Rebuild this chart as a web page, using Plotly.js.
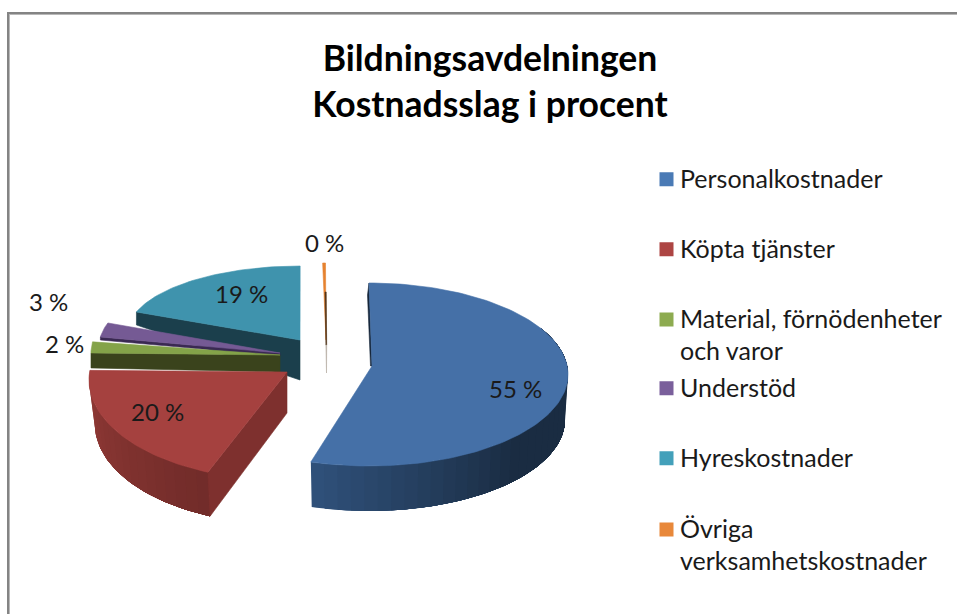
<!DOCTYPE html>
<html><head><meta charset="utf-8">
<script src="https://cdn.plot.ly/plotly-3.0.1.min.js"></script>
<style>html,body{margin:0;padding:0;background:#fff}#c{width:957px;height:614px}</style>
</head><body><div id="c"></div>
<script>
// ---- data ----
const categories = ["Personalkostnader","Köpta tjänster","Material, förnödenheter<br>och varor","Understöd","Hyreskostnader","Övriga<br>verksamhetskostnader"];
const values = [55,20,2,3,19,0.4];
// ---- styles ----
const topColors = ["#4570a7","#a5413f","#84a349","#755a94","#3f93ad","#e5822f"];
const legendColors = ["#4a7ab5","#ad4543","#8dab50","#7a5f9b","#43a0ba","#e8883a"];
// ---- 3D view (per-slice ellipse of the perspective drawing, px-mapped axes) ----
const view = [
 {cx:369,cy:374.5,rx:199,ry:91.5,ax:372,ay:366,off0:0,off1:-2.2},
 {cx:283,cy:380,rx:194,ry:100,ax:287,ay:372,off0:3.6,off1:3.9},
 {cx:280,cy:353,rx:189,ry:88,ax:280,ay:355,off0:-1.6,off1:-1.6},
 {cx:280,cy:346.5,rx:181,ry:76,ax:280,ay:353,off0:-1.7,off1:-1.7},
 {cx:300,cy:332.6,rx:172,ry:66.6,ax:300,ay:340,off0:-1.7,off1:1.5},
 {cx:327,cy:332,rx:172,ry:69,ax:326,ay:340,off0:0,off1:-0.5}
];
const labelPos = [[515,388.5],[157,411.5],[64,343.5],[48,301.5],[241,293.5],[324,242.5]];
const legendY = [179,249,319,388,458,529];

const total = values.reduce((a,b)=>a+b,0);
let cum = 0;
const angles = values.map(v=>{const s=cum/total*360; cum+=v; return [s,cum/total*360];});
const rad = d=>d*Math.PI/180;
const pt = (g,phi)=>[g.cx+g.rx*Math.sin(rad(phi)), g.cy-g.ry*Math.cos(rad(phi))];
const traces = [];
function poly(pts,color,lw){
  traces.push({type:'scatter',mode:'lines',x:pts.map(p=>p[0]).concat(pts[0][0]),y:pts.map(p=>p[1]).concat(pts[0][1]),
    fill:'toself',fillcolor:color,line:{color:color,width:lw===undefined?0.6:lw},showlegend:false,hoverinfo:'skip'});
}
function arc(g,a,b){const n=Math.max(2,Math.ceil(Math.abs(b-a)/1.5));const r=[];for(let i=0;i<=n;i++)r.push(pt(g,a+(b-a)*i/n));return r;}
function topFace(i){const g=view[i];const a=angles[i][0]+g.off0,b=angles[i][1]+g.off1;poly([[g.ax,g.ay]].concat(arc(g,a,b)),topColors[i]);}
function mix(c1,c2,t){t=Math.max(0,Math.min(1,t));return 'rgb('+c1.map((c,k)=>Math.round(c+(c2[k]-c)*t)).join(',')+')';}
function outerWall(i,a,b,depth,shrink,c1,c2,tEnd){
  // painted from b back to a so that each band overlaps the seam of the previous one
  const g=view[i];const n=Math.ceil(Math.abs(b-a)/4);const step=(b-a)/n;
  const base=r=>[g.cx+(r[0]-g.cx)*shrink,r[1]+depth];
  for(let k=0;k<n;k++){
    const p=a+k*step;
    const pts=arc(g,p,b);
    poly(pts.concat(pts.slice().reverse().map(base)),mix(c1,c2,(p-a)/(tEnd-a)),0);
  }
}
// far to near
// orange sliver
topFace(5);
poly([[325.0,292],[326.2,292],[326.7,345],[325.9,345]],"#4f3218");
poly([[325.9,345],[326.7,345],[326.5,373]],"#b5aca2");
// teal
{const g=view[4],S=pt(g,angles[4][0]+g.off0);poly([S,[g.ax,g.ay],[g.ax,g.ay+40],[S[0],S[1]+13]],"#1b3f4c");topFace(4);}
// purple
{const g=view[3],S=pt(g,angles[3][0]+g.off0);poly([S,[g.ax,g.ay],[g.ax,g.ay+3],[S[0],S[1]+3]],"#3a2952");topFace(3);}
// green
{const g=view[2],S=pt(g,angles[2][0]+g.off0);poly([S,[g.ax,g.ay],[g.ax,g.ay+17],[S[0],S[1]+15]],"#3a431c");topFace(2);}
// red
{const g=view[1],E=pt(g,angles[1][0]+g.off0);
 outerWall(1,angles[1][1]+g.off1,angles[1][0]+g.off0,44,0.97,[146,58,54],[112,43,41],angles[1][0]+g.off0);
 poly([[g.ax,g.ay],E,[g.cx+(E[0]-g.cx)*0.97,E[1]+44],[g.ax,g.ay+41]],"#7e302e");topFace(1);}
// blue
{const g=view[0],S=pt(g,0);
 outerWall(0,angles[0][1]+g.off1,60,45,0.985,[47,80,121],[26,44,66],135);
 poly([S,[S[0]-1.5,S[1]+12],[g.ax-1.5,g.ay],[g.ax,g.ay]],"#16263a");topFace(0);}
// legend swatch traces, each with its own positioned legend
const layoutLegends = {};
const legendKeys = categories.map((c,i)=>i===0?'legend':'legend'+(i+1));
categories.forEach((c,i)=>{
  const key = legendKeys[i];
  traces.push({type:'scatter',mode:'markers',x:[null],y:[null],name:c,legend:key,showlegend:true,hoverinfo:'skip',
    marker:{symbol:'square',size:14,color:legendColors[i]}});
  layoutLegends[key]={x:652.5/957,xanchor:'left',y:1-(legendY[i]-24)/614,yanchor:'top',bgcolor:'rgba(0,0,0,0)',
    borderwidth:0,indentation:-12.5,font:{family:'Lato, Carlito, sans-serif',size:25,color:'#1a1a1a'},itemclick:false,itemdoubleclick:false};
});
const annotations = values.map((v,i)=>({x:labelPos[i][0],y:labelPos[i][1],xref:'x',yref:'y',showarrow:false,
  text:Math.round(v)+' %',font:{family:'Lato, Carlito, sans-serif',size:24,color:'#1a1a1a'}}));
const layout = Object.assign({
  width:957,height:614,margin:{l:0,r:0,t:0,b:0},paper_bgcolor:'#fff',plot_bgcolor:'#fff',hovermode:false,
  title:{text:'<b>Bildningsavdelningen<br>Kostnadsslag i procent</b>',x:490/957,xanchor:'center',y:1-70.5/614,yanchor:'top',
    font:{family:'Lato, Carlito, sans-serif',size:35.5,color:'#000'}},
  xaxis:{range:[0,957],visible:false,fixedrange:true},
  yaxis:{range:[614,0],visible:false,fixedrange:true},
  annotations:annotations,
  shapes:[
    {type:'line',xref:'x',yref:'y',x0:7,x1:957,y0:13,y1:13,line:{color:'#848484',width:2}},
    {type:'line',xref:'x',yref:'y',x0:8,x1:957,y0:14.5,y1:14.5,line:{color:'#b8b8b8',width:1}},
    {type:'line',xref:'x',yref:'y',x0:8,x1:8,y0:12,y1:614,line:{color:'#848484',width:2}},
    {type:'line',xref:'x',yref:'y',x0:9.5,x1:9.5,y0:14,y1:614,line:{color:'#b8b8b8',width:1}}
  ]
},layoutLegends);
Plotly.newPlot('c',traces,layout,{displayModeBar:false,responsive:false}).then(()=>{
  // swatch placement as in the reference: nearer the text, beside the first line of a two-line entry
  legendKeys.forEach((k,i)=>{
    const l=document.querySelector('#c .'+k); if(!l) return;
    const s=l.querySelector('.legendsymbols'); if(!s) return;
    const two=categories[i].includes('<br>');
    s.setAttribute('transform','translate(6.5,'+(two?-14.5:1.5)+')');
  });
});
</script></body></html>
